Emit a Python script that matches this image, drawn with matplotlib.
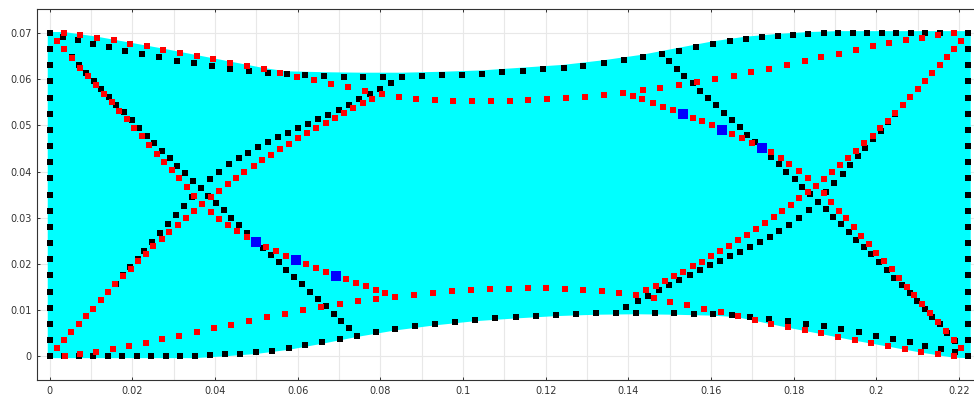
import numpy as np
import matplotlib
matplotlib.use("Agg")
import matplotlib.pyplot as plt
from matplotlib.ticker import MultipleLocator, FuncFormatter


# outline of the filled body (cyan)
FILL_X = [-0.0005, 0.0350, 0.0424, 0.0499, 0.0578, 0.0658, 0.0744, 0.0836, 0.0932,
          0.1029, 0.1128, 0.1225, 0.1322, 0.1418, 0.1511, 0.1604, 0.1660, 0.1705,
          0.1785, 0.1867, 0.1947, 0.2028, 0.2108, 0.2187, 0.2228, 0.2228, 0.1907,
          0.1835, 0.1762, 0.1684, 0.1605, 0.1522, 0.1434, 0.1340, 0.1243, 0.1144,
          0.1046, 0.0949, 0.0853, 0.0758, 0.0663, 0.0573, 0.0518, 0.0437, 0.0356,
          0.0275, 0.0195, 0.0114, 0.0035, -0.0005]
FILL_Y = [-0.0004, -0.0004, 0.0000, 0.0005, 0.0014, 0.0027, 0.0042, 0.0056, 0.0067,
          0.0076, 0.0082, 0.0087, 0.0090, 0.0091, 0.0090, 0.0088, 0.0085, 0.0077,
          0.0062, 0.0048, 0.0034, 0.0021, 0.0008, -0.0003, -0.0004, 0.0704, 0.0704,
          0.0702, 0.0698, 0.0692, 0.0682, 0.0668, 0.0653, 0.0641, 0.0631, 0.0625,
          0.0619, 0.0616, 0.0614, 0.0614, 0.0615, 0.0617, 0.0624, 0.0638, 0.0652,
          0.0666, 0.0679, 0.0692, 0.0702, 0.0702]

# black nodes
EDGE_Y = [0.0, 0.0035, 0.007, 0.0105, 0.014, 0.0175, 0.021, 0.0245, 0.028, 0.0315, 0.035,
          0.0385, 0.042, 0.0455, 0.049, 0.0525, 0.056, 0.0595, 0.063, 0.0665, 0.07]
LEFT_X = 0.0
RIGHT_X = 0.2222

BLACK_TOP = [
    (0.0031, 0.0692), (0.0067, 0.0684), (0.0104, 0.0677), (0.0143, 0.0670), (0.0183, 0.0662),
    (0.0224, 0.0655), (0.0265, 0.0647), (0.0308, 0.0640), (0.0350, 0.0634), (0.0393, 0.0628),
    (0.0437, 0.0623), (0.0482, 0.0618), (0.0527, 0.0614), (0.0573, 0.0611), (0.0618, 0.0608),
    (0.0664, 0.0606), (0.0711, 0.0605), (0.0758, 0.0605), (0.0805, 0.0605), (0.0853, 0.0605),
    (0.0901, 0.0606), (0.0949, 0.0608), (0.0998, 0.0610), (0.1046, 0.0612), (0.1094, 0.0615),
    (0.1144, 0.0618), (0.1193, 0.0621), (0.1243, 0.0625), (0.1291, 0.0629), (0.1340, 0.0635),
    (0.1388, 0.0641), (0.1434, 0.0647), (0.1480, 0.0654), (0.1522, 0.0662), (0.1564, 0.0669),
    (0.1605, 0.0676), (0.1645, 0.0682), (0.1684, 0.0687), (0.1723, 0.0691), (0.1762, 0.0694),
    (0.1799, 0.0696), (0.1835, 0.0698), (0.1872, 0.0699), (0.1907, 0.0700), (0.1943, 0.0700),
    (0.1978, 0.0700), (0.2013, 0.0700), (0.2048, 0.0700), (0.2083, 0.0700), (0.2118, 0.0700),
    (0.2153, 0.0700), (0.2187, 0.0700),
]
BLACK_BOTTOM = [
    (0.0035, 0.0), (0.0071, 0.0), (0.0105, 0.0), (0.0140, 0.0), (0.0175, 0.0), (0.0210, 0.0),
    (0.0245, 0.0), (0.0280, 0.0), (0.0316, 0.0), (0.0351, 0.0001), (0.0387, 0.0002),
    (0.0424, 0.0004), (0.0461, 0.0006), (0.0499, 0.0009), (0.0538, 0.0012), (0.0578, 0.0018),
    (0.0617, 0.0024), (0.0658, 0.0030), (0.0701, 0.0037), (0.0744, 0.0045), (0.0789, 0.0052),
    (0.0836, 0.0059), (0.0883, 0.0065), (0.0932, 0.0070), (0.0980, 0.0074), (0.1029, 0.0079),
    (0.1078, 0.0082), (0.1128, 0.0085), (0.1177, 0.0087), (0.1225, 0.0090), (0.1273, 0.0092),
    (0.1322, 0.0093), (0.1370, 0.0094), (0.1418, 0.0094), (0.1465, 0.0094), (0.1511, 0.0093),
    (0.1558, 0.0092), (0.1604, 0.0091), (0.1650, 0.0089), (0.1695, 0.0085), (0.1740, 0.0081),
    (0.1785, 0.0077), (0.1830, 0.0071), (0.1872, 0.0066), (0.1915, 0.0059), (0.1958, 0.0052),
    (0.1999, 0.0045), (0.2039, 0.0038), (0.2080, 0.0030), (0.2118, 0.0023), (0.2156, 0.0016),
    (0.2191, 0.0009),
]
# diagonal members, undeformed
BLACK_DIAG_A = [
    (0.0017, 0.0682), (0.0035, 0.0665), (0.0053, 0.0648), (0.0071, 0.0630), (0.0088, 0.0613),
    (0.0107, 0.0597), (0.0125, 0.0579), (0.0143, 0.0562), (0.0161, 0.0545), (0.0179, 0.0528),
    (0.0198, 0.0512), (0.0216, 0.0495), (0.0235, 0.0478), (0.0253, 0.0462), (0.0271, 0.0445),
    (0.0290, 0.0429), (0.0308, 0.0413), (0.0327, 0.0397), (0.0346, 0.0380), (0.0365, 0.0364),
    (0.0383, 0.0347), (0.0402, 0.0331), (0.0421, 0.0316), (0.0439, 0.0300), (0.0458, 0.0284),
    (0.0477, 0.0268), (0.0496, 0.0251), (0.0516, 0.0235), (0.0534, 0.0220), (0.0554, 0.0204),
    (0.0572, 0.0187), (0.0591, 0.0172), (0.0611, 0.0156), (0.0629, 0.0140), (0.0649, 0.0124),
    (0.0668, 0.0108), (0.0687, 0.0092), (0.0705, 0.0076), (0.0724, 0.0061),
]
BLACK_DIAG_B = [
    (0.0017, 0.0017), (0.0035, 0.0035), (0.0052, 0.0052), (0.0070, 0.0069), (0.0088, 0.0087),
    (0.0105, 0.0103), (0.0123, 0.0122), (0.0141, 0.0139), (0.0159, 0.0157), (0.0178, 0.0175),
    (0.0195, 0.0193), (0.0213, 0.0210), (0.0229, 0.0229), (0.0248, 0.0248), (0.0267, 0.0266),
    (0.0287, 0.0286), (0.0305, 0.0305), (0.0324, 0.0325), (0.0344, 0.0344), (0.0387, 0.0383),
    (0.0409, 0.0400), (0.0433, 0.0416), (0.0457, 0.0429), (0.0480, 0.0441), (0.0504, 0.0453),
    (0.0528, 0.0463), (0.0553, 0.0474), (0.0577, 0.0484), (0.0601, 0.0494), (0.0625, 0.0504),
    (0.0649, 0.0514), (0.0674, 0.0523), (0.0699, 0.0533), (0.0724, 0.0544), (0.0749, 0.0556),
    (0.0774, 0.0567), (0.0800, 0.0579), (0.0826, 0.0592),
]
BLACK_DIAG_C = [
    (0.1498, 0.0639), (0.1517, 0.0623), (0.1535, 0.0606), (0.1555, 0.0591), (0.1574, 0.0575),
    (0.1593, 0.0559), (0.1612, 0.0543), (0.1631, 0.0527), (0.1651, 0.0512), (0.1669, 0.0496),
    (0.1688, 0.0480), (0.1707, 0.0464), (0.1726, 0.0448), (0.1745, 0.0432), (0.1764, 0.0416),
    (0.1782, 0.0400), (0.1802, 0.0384), (0.1821, 0.0367), (0.1840, 0.0351), (0.1859, 0.0335),
    (0.1877, 0.0318), (0.1895, 0.0302), (0.1914, 0.0286), (0.1933, 0.0269), (0.1951, 0.0252),
    (0.1970, 0.0237), (0.1988, 0.0221), (0.2006, 0.0204), (0.2025, 0.0187), (0.2042, 0.0170),
    (0.2061, 0.0154), (0.2080, 0.0137), (0.2098, 0.0120), (0.2117, 0.0102), (0.2134, 0.0085),
    (0.2153, 0.0069), (0.2170, 0.0051), (0.2189, 0.0033), (0.2205, 0.0017),
]
BLACK_DIAG_D = [
    (0.1395, 0.0107), (0.1422, 0.0120), (0.1447, 0.0131), (0.1473, 0.0144), (0.1497, 0.0155),
    (0.1523, 0.0166), (0.1548, 0.0176), (0.1572, 0.0186), (0.1597, 0.0197), (0.1621, 0.0206),
    (0.1645, 0.0217), (0.1670, 0.0226), (0.1693, 0.0237), (0.1718, 0.0247), (0.1742, 0.0259),
    (0.1765, 0.0271), (0.1789, 0.0285), (0.1812, 0.0300), (0.1836, 0.0317), (0.1879, 0.0355),
    (0.1898, 0.0375), (0.1918, 0.0395), (0.1937, 0.0414), (0.1955, 0.0434), (0.1973, 0.0452),
    (0.1992, 0.0470), (0.2010, 0.0488), (0.2028, 0.0507), (0.2046, 0.0525), (0.2064, 0.0543),
    (0.2082, 0.0561), (0.2100, 0.0578), (0.2117, 0.0595), (0.2135, 0.0613), (0.2153, 0.0630),
    (0.2170, 0.0647), (0.2188, 0.0665), (0.2205, 0.0683),
]

# red nodes (deformed)
RED_TOP_LEFT = [
    (0.0017, 0.0683), (0.0035, 0.0700), (0.0074, 0.0696), (0.0114, 0.0690), (0.0155, 0.0684),
    (0.0195, 0.0677), (0.0235, 0.0671), (0.0275, 0.0664), (0.0316, 0.0657), (0.0356, 0.0650),
    (0.0396, 0.0644), (0.0437, 0.0636), (0.0477, 0.0629), (0.0518, 0.0622), (0.0558, 0.0614),
    (0.0599, 0.0605), (0.0640, 0.0598), (0.0681, 0.0590), (0.0721, 0.0582), (0.0762, 0.0574),
    (0.0803, 0.0567),
]
RED_DIAG_LEFT = [
    (0.0035, 0.0665), (0.0053, 0.0645), (0.0074, 0.0625), (0.0092, 0.0606), (0.0112, 0.0587),
    (0.0130, 0.0568), (0.0150, 0.0550), (0.0167, 0.0531), (0.0186, 0.0513), (0.0204, 0.0495),
    (0.0223, 0.0477), (0.0241, 0.0458), (0.0259, 0.0439), (0.0277, 0.0421), (0.0296, 0.0403),
    (0.0313, 0.0385), (0.0331, 0.0367), (0.0349, 0.0348), (0.0369, 0.0330), (0.0389, 0.0313),
    (0.0409, 0.0298), (0.0431, 0.0284), (0.0453, 0.0271), (0.0477, 0.0259), (0.0524, 0.0237),
    (0.0547, 0.0227), (0.0571, 0.0218), (0.0620, 0.0200), (0.0644, 0.0191), (0.0668, 0.0183),
    (0.0716, 0.0167), (0.0741, 0.0159), (0.0765, 0.0152), (0.0789, 0.0144), (0.0812, 0.0136),
    (0.0836, 0.0129),
]
RED_RISE_LEFT = [
    (0.0017, 0.0017), (0.0035, 0.0035), (0.0052, 0.0052), (0.0070, 0.0069), (0.0088, 0.0087),
    (0.0105, 0.0103), (0.0123, 0.0122), (0.0141, 0.0139), (0.0158, 0.0156), (0.0177, 0.0173),
    (0.0196, 0.0190), (0.0214, 0.0206), (0.0232, 0.0222), (0.0250, 0.0238), (0.0271, 0.0254),
    (0.0289, 0.0269), (0.0309, 0.0285), (0.0329, 0.0300), (0.0349, 0.0315), (0.0389, 0.0344),
    (0.0409, 0.0358), (0.0430, 0.0372), (0.0450, 0.0385), (0.0471, 0.0398), (0.0493, 0.0412),
    (0.0514, 0.0424), (0.0535, 0.0436), (0.0557, 0.0449), (0.0578, 0.0460), (0.0601, 0.0473),
    (0.0623, 0.0483), (0.0645, 0.0495), (0.0668, 0.0506), (0.0689, 0.0516), (0.0711, 0.0527),
    (0.0734, 0.0538), (0.0757, 0.0548), (0.0779, 0.0558),
]
RED_BOTTOM_LEFT = [
    (0.0037, 0.0001), (0.0074, 0.0006), (0.0112, 0.0010), (0.0152, 0.0016), (0.0192, 0.0022),
    (0.0232, 0.0029), (0.0272, 0.0037), (0.0313, 0.0044), (0.0355, 0.0052), (0.0397, 0.0061),
    (0.0439, 0.0068), (0.0482, 0.0077), (0.0525, 0.0085), (0.0568, 0.0092), (0.0612, 0.0100),
    (0.0656, 0.0107), (0.0701, 0.0113), (0.0746, 0.0119), (0.0790, 0.0124),
]
RED_FLAT_LOW = [
    (0.0882, 0.0133), (0.0927, 0.0137), (0.0973, 0.0141), (0.1018, 0.0143), (0.1064, 0.0145),
    (0.1110, 0.0146), (0.1156, 0.0147), (0.1201, 0.0147), (0.1246, 0.0146), (0.1291, 0.0144),
    (0.1335, 0.0141), (0.1378, 0.0138), (0.1419, 0.0133),
]
RED_BOTTOM_RIGHT = [
    (0.1461, 0.0126), (0.1501, 0.0118), (0.1542, 0.0110), (0.1583, 0.0102), (0.1623, 0.0095),
    (0.1664, 0.0087), (0.1705, 0.0079), (0.1745, 0.0071), (0.1785, 0.0064), (0.1826, 0.0057),
    (0.1867, 0.0050), (0.1907, 0.0042), (0.1947, 0.0036), (0.1988, 0.0029), (0.2028, 0.0023),
    (0.2068, 0.0016), (0.2108, 0.0010), (0.2148, 0.0004), (0.2187, 0.0000),
]
RED_RISE_RIGHT = [
    (0.1443, 0.0143), (0.1466, 0.0152), (0.1488, 0.0162), (0.1510, 0.0173), (0.1533, 0.0183),
    (0.1555, 0.0195), (0.1577, 0.0205), (0.1599, 0.0217), (0.1621, 0.0228), (0.1643, 0.0239),
    (0.1665, 0.0251), (0.1686, 0.0263), (0.1708, 0.0275), (0.1730, 0.0288), (0.1751, 0.0301),
    (0.1772, 0.0314), (0.1793, 0.0328), (0.1813, 0.0342), (0.1834, 0.0356), (0.1853, 0.0369),
    (0.1872, 0.0383), (0.1893, 0.0398), (0.1913, 0.0414), (0.1932, 0.0429), (0.1951, 0.0445),
    (0.1971, 0.0461), (0.1991, 0.0478), (0.2009, 0.0494), (0.2028, 0.0510), (0.2046, 0.0526),
    (0.2064, 0.0544), (0.2082, 0.0561), (0.2100, 0.0578), (0.2117, 0.0595), (0.2135, 0.0613),
    (0.2153, 0.0630), (0.2170, 0.0647), (0.2188, 0.0665), (0.2205, 0.0683),
]
RED_DIAG_RIGHT = [
    (0.1410, 0.0564), (0.1433, 0.0556), (0.1459, 0.0549), (0.1483, 0.0540), (0.1507, 0.0533),
    (0.1555, 0.0517), (0.1579, 0.0509), (0.1603, 0.0500), (0.1651, 0.0481), (0.1675, 0.0473),
    (0.1699, 0.0462), (0.1745, 0.0442), (0.1768, 0.0429), (0.1789, 0.0417), (0.1812, 0.0402),
    (0.1834, 0.0387), (0.1873, 0.0354), (0.1891, 0.0333), (0.1909, 0.0315), (0.1927, 0.0299),
    (0.1945, 0.0279), (0.1963, 0.0261), (0.1982, 0.0243), (0.2000, 0.0224), (0.2018, 0.0206),
    (0.2037, 0.0188), (0.2055, 0.0170), (0.2074, 0.0150), (0.2092, 0.0132), (0.2111, 0.0113),
    (0.2129, 0.0094), (0.2149, 0.0074), (0.2168, 0.0055), (0.2187, 0.0036), (0.2204, 0.0018),
]
RED_FLAT_HIGH = [
    (0.0845, 0.0562), (0.0887, 0.0558), (0.0932, 0.0555), (0.0976, 0.0553), (0.1021, 0.0552),
    (0.1067, 0.0552), (0.1113, 0.0553), (0.1158, 0.0555), (0.1204, 0.0556), (0.1250, 0.0559),
    (0.1296, 0.0562), (0.1341, 0.0566), (0.1387, 0.0570), (0.1435, 0.0576), (0.1477, 0.0581),
    (0.1522, 0.0587), (0.1566, 0.0594), (0.1610, 0.0600), (0.1655, 0.0607), (0.1697, 0.0615),
    (0.1741, 0.0623), (0.1784, 0.0631), (0.1826, 0.0639), (0.1867, 0.0647), (0.1909, 0.0655),
    (0.1950, 0.0663), (0.1991, 0.0671), (0.2031, 0.0678), (0.2071, 0.0685), (0.2111, 0.0690),
    (0.2149, 0.0695), (0.2187, 0.0700),
]

# highlighted nodes
BLUE_NODES = [
    (0.0499, 0.0247), (0.0595, 0.0208), (0.0692, 0.0174),
    (0.1531, 0.0525), (0.1626, 0.0491), (0.1722, 0.0452),
]


def plot_nodes(ax, pts, color, size, z):
    arr = np.array(pts)
    ax.scatter(arr[:, 0], arr[:, 1], s=size, marker="s", c=color,
               linewidths=0, zorder=z)


fig = plt.figure(figsize=(9.74, 3.98), dpi=100)
ax = fig.add_axes([37 / 974, 18 / 398, 937 / 974, 371 / 398])

ax.fill(FILL_X, FILL_Y, color="#00ffff", linewidth=0, zorder=1)

black_sets = [BLACK_TOP, BLACK_BOTTOM, BLACK_DIAG_A, BLACK_DIAG_B, BLACK_DIAG_C, BLACK_DIAG_D]
plot_nodes(ax, [(LEFT_X, y) for y in EDGE_Y], "black", 17, 3)
plot_nodes(ax, [(RIGHT_X, y) for y in EDGE_Y], "black", 17, 3)
for pts in black_sets:
    plot_nodes(ax, pts, "black", 17, 3)

red_sets = [RED_TOP_LEFT, RED_DIAG_LEFT, RED_RISE_LEFT, RED_BOTTOM_LEFT, RED_FLAT_LOW,
            RED_BOTTOM_RIGHT, RED_RISE_RIGHT, RED_DIAG_RIGHT, RED_FLAT_HIGH]
for pts in red_sets:
    plot_nodes(ax, pts, "#ff0000", 17, 4)

plot_nodes(ax, BLUE_NODES, "#0000ff", 44, 5)

ax.set_xlim(-0.0031, 0.2236)
ax.set_ylim(-0.00513, 0.07519)

ax.xaxis.set_major_locator(MultipleLocator(0.02))
ax.xaxis.set_minor_locator(MultipleLocator(0.01))
ax.yaxis.set_major_locator(MultipleLocator(0.01))
fmt = FuncFormatter(lambda v, _: "0" if abs(v) < 1e-12 else f"{v:.2f}".rstrip("0"))
ax.xaxis.set_major_formatter(fmt)
ax.yaxis.set_major_formatter(fmt)

ax.set_axisbelow(True)
ax.grid(True, which="both", axis="x", color="#e8e8e8", linewidth=0.8, zorder=0)
ax.grid(True, which="major", axis="y", color="#e8e8e8", linewidth=0.8, zorder=0)

ax.tick_params(which="major", direction="in", length=2.5, width=0.7, color="#333333",
               top=True, right=False, labelsize=7, labelcolor="#333333", pad=4)
ax.tick_params(which="minor", length=0, top=True)
for side in ax.spines.values():
    side.set_color("#333333")
    side.set_linewidth(0.8)
ax.spines["right"].set_visible(False)

fig.savefig("out.png", dpi=100)
